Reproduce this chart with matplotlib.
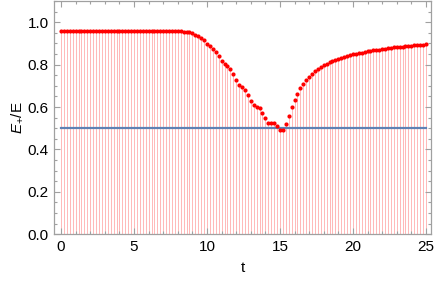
import numpy as np
import matplotlib
matplotlib.use("Agg")
import matplotlib.pyplot as plt
from matplotlib.ticker import MultipleLocator

t = np.round(np.arange(126) * 0.2, 1)
ratio = ([0.957] * 42 +
         [0.956, 0.955, 0.953, 0.949, 0.941, 0.933, 0.927, 0.914,
          0.898, 0.886, 0.873, 0.860, 0.842, 0.818, 0.802, 0.792, 0.778,
          0.755, 0.728, 0.704, 0.696, 0.682, 0.655, 0.630, 0.608, 0.602,
          0.594, 0.570, 0.547, 0.526, 0.526, 0.526, 0.511, 0.493, 0.493,
          0.520, 0.559, 0.600, 0.634, 0.663, 0.688, 0.707, 0.726, 0.742,
          0.756, 0.769, 0.780, 0.790, 0.797, 0.804, 0.810, 0.816, 0.821,
          0.827, 0.832, 0.837, 0.842, 0.845, 0.848, 0.851, 0.854,
          0.857, 0.860, 0.863, 0.865, 0.867, 0.869, 0.871, 0.873, 0.875,
          0.877, 0.879, 0.881, 0.882, 0.884, 0.885, 0.887, 0.888, 0.889,
          0.891, 0.892, 0.893, 0.894, 0.895])
ref_level = 0.5
xticks = [0, 5, 10, 15, 20, 25]
yticks = [0.0, 0.2, 0.4, 0.6, 0.8, 1.0]

plt.rcParams['font.family'] = ['Liberation Sans', 'DejaVu Sans']
plt.rcParams['mathtext.fontset'] = 'custom'
plt.rcParams['mathtext.it'] = 'Liberation Sans:italic'
plt.rcParams['mathtext.rm'] = 'Liberation Sans'

fig = plt.figure(figsize=(4.36, 2.85), dpi=100)
ax = fig.add_axes([0.124, 0.178, 0.8645, 0.8185])

ax.vlines(t, 0, ratio, colors=(1.0, 0.72, 0.72), linewidth=0.7, zorder=1)
ax.plot([t[0], t[-1]], [ref_level, ref_level], color='#5E81B5', linewidth=1.6, zorder=2)
ax.plot(t, ratio, 'o', color='#FF0000', markersize=3.0, markeredgewidth=0, zorder=3)

ax.set_xlim(-0.48, 25.35)
ax.set_ylim(0, 1.1)
ax.set_xticks(xticks)
ax.set_yticks(yticks)
ax.set_yticklabels([f"{v:.1f}" for v in yticks])
ax.xaxis.set_minor_locator(MultipleLocator(1))
ax.yaxis.set_minor_locator(MultipleLocator(0.05))

for s in ax.spines.values():
    s.set_color('#A0A0A0')
    s.set_linewidth(0.9)
ax.tick_params(which='both', direction='in', top=True, right=True, color='#A0A0A0',
               labelsize=11, labelcolor='black', width=0.8)
ax.tick_params(which='major', length=4.5, pad=4)
ax.tick_params(which='minor', length=2.5)
ax.tick_params(axis='x', which='both', labeltop=False)
ax.tick_params(axis='y', which='both', labelright=False)

ax.set_xlabel('t', fontsize=11, labelpad=5)
ax.set_ylabel(r'$E_{+}$/E', fontsize=11, labelpad=2)

fig.savefig('out.png', dpi=100)
